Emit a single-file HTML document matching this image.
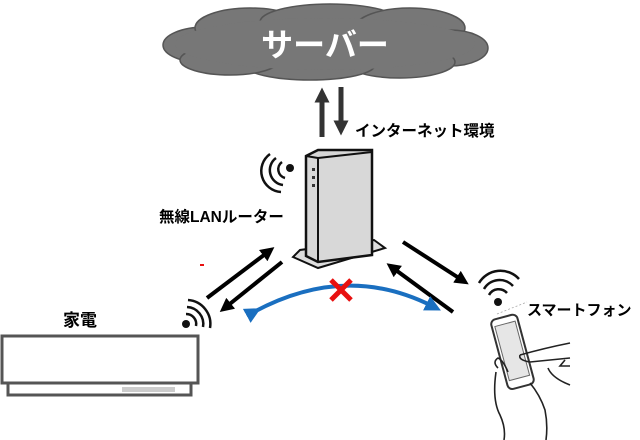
<!DOCTYPE html>
<html><head><meta charset="utf-8"><style>
html,body{margin:0;padding:0;background:#fff;}
svg{display:block;}
text{font-family:"Liberation Sans","Noto Sans CJK JP",sans-serif;font-weight:bold;}
</style></head><body>
<svg width="640" height="440" viewBox="0 0 640 440" xmlns="http://www.w3.org/2000/svg">
<defs>
<marker id="ah" markerWidth="3.5" markerHeight="3.5" refX="1.5" refY="1.75" orient="auto" markerUnits="strokeWidth"><path d="M0,0 L3.5,1.75 L0,3.5 z" fill="#000"/></marker>
<marker id="ahg" markerWidth="3" markerHeight="3" refX="1.5" refY="1.5" orient="auto" markerUnits="strokeWidth"><path d="M0,0 L3,1.5 L0,3 z" fill="#333"/></marker>
<marker id="ahb" markerWidth="4" markerHeight="4" refX="1.5" refY="2" orient="auto" markerUnits="strokeWidth"><path d="M0,0 L4,2 L0,4 z" fill="#1a6fc0"/></marker>
</defs>
<!-- cloud -->
<g fill="#777" stroke="#555" stroke-width="1.5">
<ellipse cx="205" cy="45" rx="42" ry="18"/>
<ellipse cx="250" cy="28" rx="55" ry="20"/>
<ellipse cx="330" cy="22" rx="70" ry="18"/>
<ellipse cx="410" cy="28" rx="55" ry="20"/>
<ellipse cx="450" cy="48" rx="38" ry="18"/>
<ellipse cx="400" cy="62" rx="55" ry="16"/>
<ellipse cx="310" cy="65" rx="65" ry="15"/>
<ellipse cx="230" cy="60" rx="50" ry="15"/>
</g>
<ellipse cx="325" cy="44" rx="150" ry="26" fill="#777"/>
<text x="325" y="56" font-size="32" fill="#fff" text-anchor="middle">サーバー</text>
<!-- internet arrows -->
<line x1="322" y1="137" x2="322" y2="95" stroke="#333" stroke-width="5" marker-end="url(#ahg)"/>
<line x1="341" y1="87" x2="341" y2="128" stroke="#333" stroke-width="5" marker-end="url(#ahg)"/>
<text x="355" y="136" font-size="15.5" fill="#000">インターネット環境</text>
<!-- router -->
<polygon points="293,257 318,268 385,248 374,240 300,250" fill="#ddd" stroke="#111" stroke-width="2"/>
<polygon points="306,156 318,150 372,150 372,255 318,262 306,256" fill="#d8d8d8" stroke="#111" stroke-width="2.5"/>
<line x1="318" y1="158" x2="318" y2="262" stroke="#111" stroke-width="2"/>
<line x1="306" y1="156" x2="318" y2="158" stroke="#111" stroke-width="2"/>
<line x1="318" y1="158" x2="372" y2="152" stroke="#111" stroke-width="2"/>
<rect x="312" y="168" width="3" height="3" fill="#333"/><rect x="312" y="176" width="3" height="3" fill="#333"/><rect x="312" y="184" width="3" height="3" fill="#333"/>
<!-- router wifi -->
<circle cx="290" cy="168" r="4" fill="#111"/>
<g fill="none" stroke="#111" stroke-width="2.5">
<path d="M282,162 A9,9 0 0 0 285,178"/><path d="M276,158 A15,15 0 0 0 283,185"/><path d="M270,154 A21,21 0 0 0 281,192"/>
</g>
<text x="159" y="222" font-size="15.5" fill="#000">無線LANルーター</text>
<!-- left arrows -->
<line x1="207" y1="298" x2="268" y2="252" stroke="#000" stroke-width="4" marker-end="url(#ah)"/>
<line x1="282" y1="262" x2="226" y2="307" stroke="#000" stroke-width="4" marker-end="url(#ah)"/>
<!-- right arrows -->
<line x1="403" y1="242" x2="462" y2="280" stroke="#000" stroke-width="4" marker-end="url(#ah)"/>
<line x1="453" y1="312" x2="393" y2="268" stroke="#000" stroke-width="4" marker-end="url(#ah)"/>
<!-- blue arc -->
<path d="M252,313 Q345,262 432,306" fill="none" stroke="#1a6fc0" stroke-width="4" marker-start="url(#ahb)" marker-end="url(#ahb)"/>
<g stroke="#e81010" stroke-width="5"><line x1="331" y1="280" x2="351" y2="300"/><line x1="351" y1="280" x2="331" y2="300"/></g>
<rect x="200" y="264" width="4" height="2" fill="#e81010"/>
<!-- appliance wifi -->
<circle cx="186" cy="324" r="4" fill="#111"/>
<g fill="none" stroke="#111" stroke-width="2.5">
<path d="M186,314 A10,10 0 0 1 196,326"/><path d="M187,307 A17,17 0 0 1 203,327"/><path d="M188,300 A24,24 0 0 1 210,328"/>
</g>
<text x="63" y="326" font-size="17" fill="#000">家電</text>
<rect x="2" y="336" width="196" height="47" fill="#fff" stroke="#555" stroke-width="3"/>
<rect x="8" y="383" width="183" height="12" fill="#fff" stroke="#555" stroke-width="3"/>
<rect x="122" y="387" width="53" height="5" fill="#ccc"/>
<!-- phone wifi -->
<circle cx="498" cy="302" r="4" fill="#111"/>
<g fill="none" stroke="#111" stroke-width="2.5">
<path d="M489,295 A11,11 0 0 1 507,293"/><path d="M484,289 A18,18 0 0 1 513,286"/><path d="M479,283 A25,25 0 0 1 519,279"/>
</g>
<line x1="497" y1="314" x2="527" y2="302" stroke="#aaa" stroke-width="0.8" stroke-dasharray="2,2"/>
<text x="527" y="315" font-size="15" fill="#000">スマートフォン</text>
<!-- phone -->
<g transform="rotate(-15 512 352)">
<rect x="499" y="316" width="27" height="72" rx="5" fill="#fff" stroke="#333" stroke-width="2"/>
<rect x="502" y="323" width="21" height="56" fill="#e6e6e6" stroke="#666" stroke-width="1"/>
</g>
<g fill="none" stroke="#222" stroke-width="1.6">
<path d="M520,355 Q545,348 570,343"/><path d="M520,355 Q518,360 530,362 Q550,360 570,358"/><path d="M565,360 L560,366 L570,366"/>
<path d="M548,368 Q552,378 570,385"/>
<path d="M498,368 Q492,362 498,358 Q503,360 508,372"/><path d="M496,372 Q492,400 500,415 Q506,428 504,440"/>
<path d="M530,383 Q540,395 545,410 Q548,425 546,440"/>
</g>
</svg>
</body></html>
